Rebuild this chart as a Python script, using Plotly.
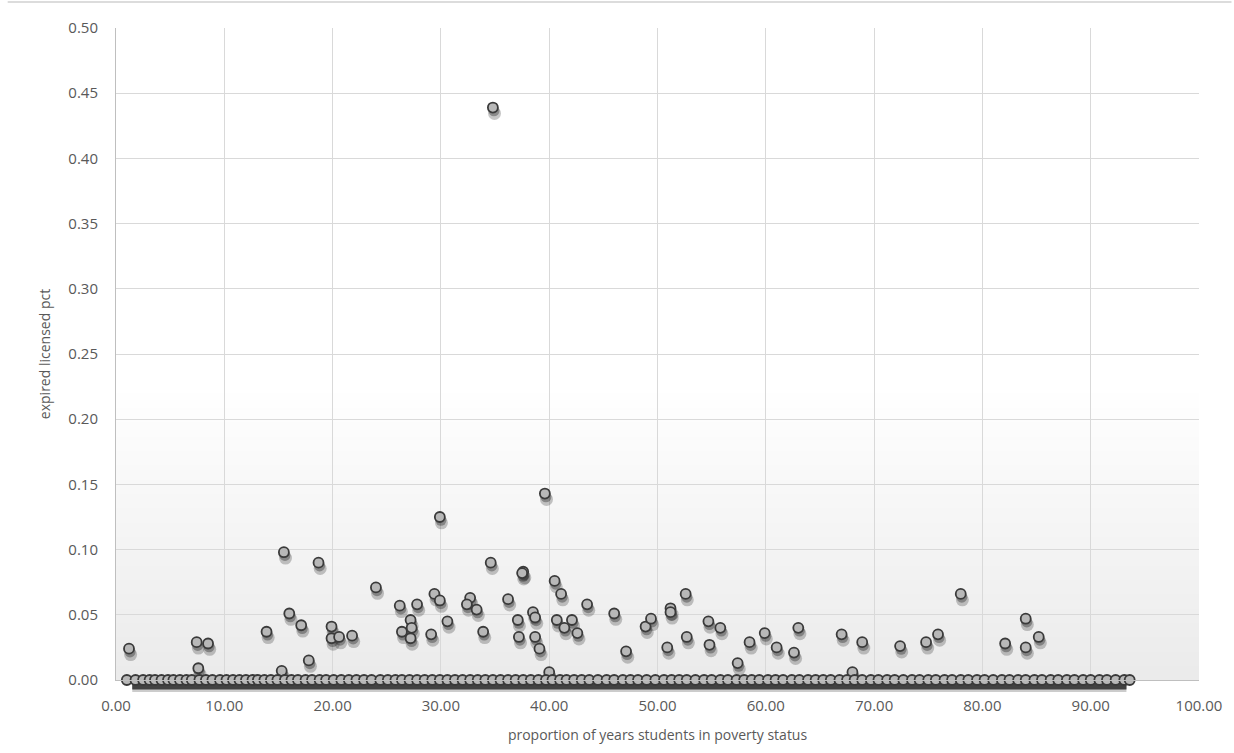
import plotly.graph_objects as go

# scattered non-zero observations
pts_x = [1.2, 7.45, 8.5, 7.6, 13.9, 15.5, 16.0, 17.1, 17.8, 15.3, 18.7, 19.9, 19.9, 20.6, 21.8,
         24.0, 26.2, 27.8, 26.4, 27.2, 27.3, 27.2, 29.1, 29.4, 29.9, 30.6, 29.9, 32.7, 32.4, 33.3,
         33.9, 34.6, 34.8, 37.6, 37.5, 36.2, 37.1, 37.2, 38.5, 38.7, 38.7, 39.1, 39.6, 40.0, 40.5,
         41.1, 40.7, 41.4, 42.1, 42.6, 43.5, 46.0, 47.1, 48.9, 49.4, 50.9, 51.2, 51.2, 52.6, 52.7,
         54.7, 54.8, 55.8, 57.4, 58.5, 59.9, 61.0, 62.6, 63.0, 67.0, 68.0, 68.9, 72.4, 74.8, 75.9,
         78.0, 82.1, 84.0, 84.0, 85.2]
pts_y = [0.024, 0.029, 0.028, 0.009, 0.037, 0.098, 0.051, 0.042, 0.015, 0.007, 0.090, 0.041, 0.032, 0.033, 0.034,
         0.071, 0.057, 0.058, 0.037, 0.046, 0.040, 0.032, 0.035, 0.066, 0.061, 0.045, 0.125, 0.063, 0.058, 0.054,
         0.037, 0.090, 0.439, 0.083, 0.082, 0.062, 0.046, 0.033, 0.052, 0.048, 0.033, 0.024, 0.143, 0.006, 0.076,
         0.066, 0.046, 0.040, 0.046, 0.036, 0.058, 0.051, 0.022, 0.041, 0.047, 0.025, 0.055, 0.052, 0.066, 0.033,
         0.045, 0.027, 0.040, 0.013, 0.029, 0.036, 0.025, 0.021, 0.040, 0.035, 0.006, 0.029, 0.026, 0.029, 0.035,
         0.066, 0.028, 0.047, 0.025, 0.033]

# observations with zero expired licenses
zero_x = [1.0, 1.8, 2.5, 3.1, 3.6, 4.2, 4.8, 5.3, 5.9, 6.5, 7.0, 7.7, 8.3, 8.9, 9.6, 10.2, 10.8, 11.4,
          12.0, 12.6, 13.1, 13.7, 14.3, 14.9, 15.6, 16.2, 16.8, 17.5, 18.1, 18.8, 19.4, 20.1, 20.8, 21.5,
          22.2, 22.9, 23.6, 24.4, 25.1, 25.8, 26.4, 27.1, 27.8, 28.5, 29.2, 29.9, 30.6, 31.3, 32.0, 32.7,
          33.4, 34.1, 34.8, 35.5, 36.2, 36.9, 37.6, 38.3, 39.0, 39.7, 40.3, 41.0, 41.6, 42.3, 43.0, 43.7,
          44.5, 45.3, 46.0, 46.8, 47.5, 48.2, 49.0, 49.8, 50.6, 51.3, 52.0, 52.7, 53.5, 54.3, 55.0, 55.8,
          56.5, 57.3, 58.0, 58.7, 59.4, 60.2, 60.9, 61.6, 62.4, 63.1, 63.9, 64.6, 65.3, 66.0, 66.8, 67.5,
          68.2, 68.9, 69.7, 70.4, 71.2, 71.9, 72.7, 73.5, 74.2, 75.0, 75.7, 76.5, 77.2, 78.0, 78.7, 79.5,
          80.2, 81.0, 81.8, 82.5, 83.3, 84.0, 84.8, 85.5, 86.3, 87.0, 87.8, 88.5, 89.3, 90.0, 90.8, 91.5,
          92.3, 93.1, 93.6]
zero_y = [0.0 for _ in zero_x]

x_ticks = [0, 10, 20, 30, 40, 50, 60, 70, 80, 90, 100]
y_ticks = [0.0, 0.05, 0.10, 0.15, 0.20, 0.25, 0.30, 0.35, 0.40, 0.45, 0.50]

all_x = pts_x + zero_x
all_y = pts_y + zero_y

fig = go.Figure()

# soft shadows under the scattered points
fig.add_trace(go.Scatter(
    x=[v + 0.15 for v in pts_x], y=[v - 0.0045 for v in pts_y], mode="markers",
    marker=dict(size=13, color="rgba(0,0,0,0.22)", line=dict(width=0)),
    hoverinfo="skip", showlegend=False, cliponaxis=False))
fig.add_trace(go.Scatter(
    x=[v + 0.1 for v in pts_x], y=[v - 0.0025 for v in pts_y], mode="markers",
    marker=dict(size=11, color="rgba(0,0,0,0.3)", line=dict(width=0)),
    hoverinfo="skip", showlegend=False, cliponaxis=False))

fig.add_trace(go.Scatter(
    x=all_x, y=all_y, mode="markers",
    marker=dict(size=10, color="#b8b8b8", line=dict(width=1.8, color="#3a3a3a")),
    showlegend=False, cliponaxis=False))

shapes = []
# faint, smooth shading in the lower part of the plot area
for i in range(1, 21):
    shapes.append(dict(type="rect", xref="x", yref="y", x0=0, x1=100, y0=0, y1=0.011 * i,
                       fillcolor="rgba(0,0,0,0.0028)", line=dict(width=0), layer="below"))
# shadow band under the row of zero values (spans the data extent)
zx0, zx1 = min(zero_x), max(zero_x)
for (p0, p1, a) in [(-2, -12, 0.2), (-3, -10, 0.35), (-4, -9, 0.5)]:
    shapes.append(dict(type="rect", xref="x", yref="paper", ysizemode="pixel", yanchor=0,
                       x0=zx0 + 0.5, x1=zx1 - 0.3, y0=p0, y1=p1,
                       fillcolor="rgba(0,0,0,%s)" % a, line=dict(width=0), layer="below"))
shapes.append(dict(type="line", xref="paper", yref="paper", x0=-0.1, x1=1.03, y0=1.04, y1=1.04,
                   line=dict(color="#d0d0d0", width=1.5)))

fig.update_layout(
    width=1234, height=753,
    margin=dict(l=116, r=31, t=28, b=73),
    paper_bgcolor="white", plot_bgcolor="white",
    font=dict(family="Open Sans, Noto Sans, sans-serif", color="#595959", size=14),
    shapes=shapes,
    xaxis=dict(range=[0, 100], tickvals=x_ticks, tickformat=".2f",
               showgrid=True, gridcolor="#d9d9d9", gridwidth=1,
               showline=True, linecolor="#bfbfbf", linewidth=1,
               zeroline=False, ticks="", ticklabelstandoff=12,
               tickfont=dict(size=15, color="#595959"),
               title=dict(text="proportion of years students in poverty status",
                          font=dict(size=14, color="#595959"), standoff=16)),
    yaxis=dict(range=[0, 0.5], tickvals=y_ticks, tickformat=".2f",
               showgrid=True, gridcolor="#d9d9d9", gridwidth=1,
               showline=True, linecolor="#bfbfbf", linewidth=1,
               zeroline=False, ticks="", ticklabelstandoff=14,
               tickfont=dict(size=15, color="#595959"),
               title=dict(text="expired licensed pct",
                          font=dict(size=14, color="#595959"), standoff=14)),
)

fig.write_html("out.html")
